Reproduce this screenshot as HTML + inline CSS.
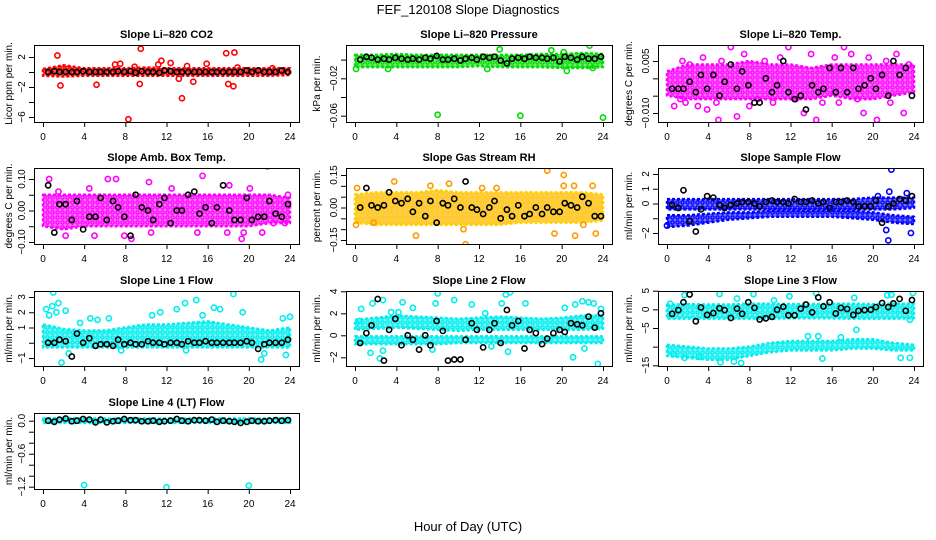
<!DOCTYPE html>
<html><head><meta charset="utf-8"><style>
html,body{margin:0;padding:0;background:#fff;}
svg{display:block;font-family:"Liberation Sans",Arial,sans-serif;}
</style></head><body>
<svg id="chart" width="936" height="540" xmlns="http://www.w3.org/2000/svg">
<text x="468" y="14" text-anchor="middle" font-size="13">FEF_120108  Slope Diagnostics</text>
<text x="468" y="531" text-anchor="middle" font-size="13">Hour of Day (UTC)</text>
</svg>
<script>
const blackHours=[0.5,1.1,1.6,2.2,2.8,3.3,3.9,4.5,5.1,5.6,6.2,6.8,7.3,7.9,8.5,9.0,9.6,10.2,10.7,11.3,11.8,12.4,13.0,13.5,14.1,14.7,15.2,15.8,16.4,16.9,17.5,18.1,18.6,19.2,19.8,20.3,20.9,21.5,22.0,22.6,23.2,23.8];
const bandHours=[0,2,4,6,8,10,12,14,16,18,20,22,24];
const xTicks=[0,4,8,12,16,20,24];

const co2Black=[0,0.1,0,0,0,0,0.1,0,0,0,0,0,0.1,0,0.1,-0.1,0.1,0,0,-0.1,0.2,0.1,0,0,0,0,0,0,0,0,0,0,0,0,0.2,0,0.2,0,0,0,0.2,0];
const co2BandLo=[-0.5,-0.6,-0.5,-0.5,-0.5,-0.5,-0.5,-0.5,-0.5,-0.5,-0.5,-0.5,-0.4];
const co2BandHi=[0.4,0.9,0.5,0.5,0.5,0.6,0.5,0.5,0.5,0.5,0.5,0.5,0.5];
const co2OutX=[1.4,1.7,5.2,7.0,7.5,8.3,8.9,9.5,9.4,11.2,11.5,12.4,13.5,14.0,14.6,15.9,17.8,18.0,18.5,18.6,18.9,22.3,13.2];
const co2OutY=[2.2,-1.8,-1.7,1.0,1.1,-6.3,0.7,3.1,-1.6,1.0,1.5,1.2,-3.5,0.8,-1.3,1.1,2.5,-1.6,-1.9,2.6,0.6,0.5,-0.9];

const presBlack=[0,0.003,0.002,0,0.001,0,0.002,0.001,0,0.001,0,0.002,0.001,0.004,0,0,0.001,-0.001,0.001,0.002,0,0.003,0.002,0.003,-0.001,-0.004,0.001,0.002,0.001,0.003,0.002,0.002,0.001,0.002,-0.002,0.003,0.002,0,0.003,0.001,0.001,0.003];
const presBandLo=[-0.008,-0.008,-0.008,-0.008,-0.008,-0.008,-0.007,-0.008,-0.008,-0.008,-0.009,-0.009,-0.008];
const presBandHi=[0.005,0.005,0.006,0.005,0.005,0.005,0.005,0.005,0.005,0.006,0.006,0.007,0.006];
const presOutX=[8,16,24,0.1,14,20.5,22.7,23,3.2,12.8,19,20.2];
const presOutY=[-0.059,-0.06,-0.062,-0.01,0.011,-0.012,0.015,-0.009,-0.01,-0.01,0.01,0.008];

const tempBlack=[-0.003,-0.003,-0.003,-0.001,-0.004,0.001,-0.003,0.001,-0.005,-0.001,0.004,-0.003,0.002,-0.002,-0.007,-0.007,0,-0.004,-0.002,0.005,-0.004,-0.006,-0.005,-0.009,-0.002,-0.004,-0.003,0.003,-0.004,0.003,-0.004,0.003,-0.003,-0.002,0,-0.003,0.001,-0.005,0.005,0.001,0.003,-0.005];
const tempBandLo=[-0.005,-0.006,-0.006,-0.006,-0.006,-0.006,-0.006,-0.006,-0.005,-0.006,-0.006,-0.005,-0.004];
const tempBandHi=[0.002,0.004,0.004,0.004,0.005,0.004,0.004,0.003,0.004,0.004,0.004,0.004,0.004];
const tempOutX=[0.7,1.3,1.5,1.8,2.2,3.0,3.5,3.9,4.8,5.0,5.3,6.2,6.8,7.5,8.0,8.8,9.5,10.3,11.0,11.8,12.5,13.3,14.0,14.5,15.1,16.3,16.7,17.2,17.9,18.5,19.1,19.6,20.4,21.3,21.7,22.3,23.0,23.5];
const tempOutY=[-0.008,-0.006,0.005,-0.007,0.004,-0.008,0.006,-0.009,-0.007,-0.012,0.005,0.009,-0.011,0.007,-0.008,-0.006,0.005,-0.007,0.006,0.009,-0.006,-0.01,0.007,-0.012,-0.007,0.006,-0.007,0.009,0.007,-0.006,-0.01,0.006,-0.012,0.005,-0.007,0.007,-0.01,0.004];

const boxBlack=[0.08,-0.07,0.02,0.02,-0.03,0.03,-0.06,-0.02,-0.02,0.04,-0.03,0.03,0.01,-0.02,-0.08,0.05,0.01,0,-0.03,0.02,0.04,-0.04,0,0,0.05,0.06,-0.01,0.01,-0.04,0.01,0.08,0,-0.03,-0.03,0.04,-0.03,-0.02,-0.02,0.03,-0.01,-0.02,0.02];
const boxBandLo=[-0.05,-0.06,-0.05,-0.05,-0.05,-0.05,-0.05,-0.05,-0.05,-0.05,-0.05,-0.04,-0.04];
const boxBandHi=[0.05,0.05,0.05,0.05,0.05,0.05,0.05,0.05,0.05,0.05,0.05,0.05,0.04];
const boxOutX=[0.6,1.5,2.2,4.5,5.0,6.3,7.1,7.9,8.6,10.3,10.5,12.5,15.5,15.0,17.9,18.1,19.3,19.5,20.1,21.3,21.8,22.4,23.5,23.8];
const boxOutY=[0.1,0.06,-0.08,0.07,-0.08,0.1,0.1,-0.08,-0.09,0.09,-0.07,0.07,0.11,-0.07,-0.07,0.08,-0.09,-0.07,0.07,-0.07,0.14,-0.04,-0.04,0.05];

const rhBlack=[0,0.09,0.01,0,0.01,0.07,0.03,0.02,0.04,-0.02,0.02,-0.04,0.03,-0.07,0.02,0.01,0.04,0,0.12,0,-0.01,-0.03,0,0.03,-0.05,-0.01,-0.04,0.01,-0.04,-0.03,0,-0.03,0,-0.02,-0.02,0.02,0.01,0,0.05,0.02,-0.04,-0.04];
const rhBandLo=[-0.07,-0.08,-0.08,-0.08,-0.08,-0.08,-0.08,-0.08,-0.07,-0.07,-0.07,-0.07,-0.06];
const rhBandHi=[0.06,0.07,0.07,0.07,0.08,0.07,0.07,0.07,0.07,0.07,0.07,0.07,0.06];
const rhOutX=[0.2,0.1,1.8,3.8,7.3,5.9,9.1,10.7,10.5,12.3,13.7,16.5,18.6,19.3,20.2,20.2,21.2,21.3,22.1,23,23.3];
const rhOutY=[0.09,-0.08,-0.07,0.12,0.1,-0.13,0.11,-0.17,-0.1,0.09,0.09,-0.2,0.17,-0.12,0.15,0.1,0.1,-0.13,-0.08,0.1,-0.12];

const sampBlack=[-0.1,-0.3,0.9,-1.2,-1.9,-0.4,0.5,0.4,-0.1,-0.3,-0.1,0,0.1,0.1,0,-0.2,0.1,0.2,0.1,0.1,0,0.3,0.1,0.1,0.2,0,0.1,-0.3,0.1,0.1,0.2,0.1,-0.2,-0.2,-0.2,0.2,-1.3,-0.2,0,0.3,0.2,0.5];
const sampBandLo=[-0.4,-0.4,-0.4,-0.4,-0.4,-0.4,-0.4,-0.4,-0.4,-0.4,-0.4,-0.4,-0.3];
const sampBandHi=[0.3,0.3,0.3,0.3,0.3,0.3,0.3,0.3,0.3,0.3,0.4,0.4,0.4];
const sampBand2Lo=[-1.6,-1.5,-1.3,-1.1,-1.0,-0.9,-0.9,-0.9,-0.9,-1.0,-1.1,-1.3,-1.4];
const sampBand2Hi=[-0.8,-0.8,-0.7,-0.6,-0.6,-0.5,-0.5,-0.5,-0.5,-0.5,-0.6,-0.8,-0.9];
const sampOutX=[21.8,21.5,21.7,23.6,23.7,21.6,21.3,23.3,20.5,0];
const sampOutY=[2.3,-2.5,-3,-3,-2,0.8,-1.8,0.7,0.5,-1.5];

const l1Black=[0,0,0.2,0.1,-0.9,0.6,0,0.3,-0.2,-0.1,-0.1,-0.2,0.2,-0.1,0,-0.1,-0.1,0.1,0,0,-0.1,0,0,-0.1,0.1,0,0,0.1,0,0,0,0,0,0,0.1,0,-0.4,-0.1,0,0,0,0.2];
const l1BandLo=[-0.3,-0.3,-0.3,-0.3,-0.3,-0.3,-0.3,-0.3,-0.3,-0.3,-0.3,-0.3,-0.3];
const l1BandHi=[1.2,0.9,0.8,0.8,1.0,1.2,1.2,1.3,1.4,1.2,1.0,0.8,1.0];
const l1OutX=[0.3,0.6,0.9,1.0,1.3,1.5,1.8,2.2,2.5,3.6,4.6,5.3,6.4,7.6,11.4,13.0,13.8,13.9,14.9,16.6,17.2,18.5,19.4,21.2,21.5,23.3,23.6,24,10.6,15.5];
const l1OutY=[2.2,1.8,2.4,3.3,2.0,2.6,-1.3,2.1,-0.7,1.3,1.6,1.5,1.6,-0.5,2.0,2.2,2.6,-0.5,2.8,2.3,2.2,3.2,2.0,-1.1,-0.7,1.6,-0.8,1.7,1.8,1.8];

const l2Black=[-0.7,0.2,0.9,3.3,-2.3,0.5,1.5,-0.9,0,-0.4,-1.3,0,-0.9,1.3,0.4,-2.3,-2.2,-2.2,-0.4,1.1,0.5,-1.1,0.5,1.1,-0.7,2.3,0.9,1.3,-1.2,0.5,0.2,-0.8,-0.3,0.2,0.5,0.3,1.1,1,0.9,1.7,0.7,2];
const l2BandLo=[-0.8,-0.8,-0.8,-0.8,-0.8,-0.7,-0.7,-0.7,-0.7,-0.7,-0.7,-0.7,-0.7];
const l2BandHi=[-0.1,-0.1,-0.1,-0.1,-0.1,-0.1,-0.1,-0.1,-0.1,-0.1,-0.1,-0.1,-0.1];
const l2Band2Lo=[0.5,0.6,0.7,0.6,0.5,0.4,0.5,0.5,0.5,0.5,0.5,0.5,0.6];
const l2Band2Hi=[1.4,1.6,1.8,1.7,1.6,1.5,1.6,1.7,1.6,1.5,1.6,1.8,1.8];
const l2OutX=[0.4,0.6,1.7,1.5,2.4,2.7,2.7,3.5,4.2,4.6,5.6,7.5,7.8,8,9.6,11.3,12.6,13.2,14.2,14.6,15,14.8,16.5,20.3,21.1,21.3,22,22.6,23.1,23.5,23.8,22.2];
const l2OutY=[1.3,2.4,2.9,-1.6,-2.1,-1.4,3.2,2.1,2.1,3.0,2.5,-1.3,2.9,3.8,3.2,2.8,2.0,-1.0,2.9,3.7,3.9,-1.5,2.9,2.5,-2.0,2.8,3.1,3.0,2.9,-2.6,2.4,-1.2];

const l3Black=[-1.2,-0.2,1.9,4,-3.2,0.5,-1.5,-1,0.3,-0.2,-2.3,0.2,-1.2,1.9,0.4,-2.7,-2.4,-2,-0.1,0.7,-1.6,-1.6,0.2,1.3,-0.8,3.2,0.8,1.9,-1.1,0.4,0.1,-1.5,-0.4,-0.2,-0.1,0.6,1.7,0.6,1.6,2.8,-0.4,2.5];
const l3BandLo=[-2.5,-2.5,-2.5,-2.5,-2.5,-2.5,-2.4,-2.4,-2.4,-2.5,-2.5,-2.5,-2.4];
const l3BandHi=[1.2,1.4,1.3,1.3,1.5,1.5,1.4,1.4,1.5,1.5,1.4,1.5,1.5];
const l3Band2Lo=[-12.5,-13,-13.5,-13.5,-12.5,-11.5,-11,-11,-11,-10.5,-10.5,-11,-11];
const l3Band2Hi=[-9.5,-10,-10.5,-10.5,-10,-9,-8.5,-8.5,-8.5,-8,-8,-9,-9.5];
const l3OutX=[0.3,1.7,5.1,6.8,8.4,10.4,11.9,14.5,18.2,21.4,21.8,23.9,0.6,1.7,3.1,5.2,7.2,6.5,13.7,14.7,15.1,16.9,18.4,23.6,23.6,22.7];
const l3OutY=[1.5,3.8,4.1,2.9,4.1,2.4,3.5,4.3,3.1,3.8,3.9,4.4,-12,-13,-12.7,-14.2,-14.4,-14,-7.2,-7.2,-13.2,-7.5,-5.5,-13,-2.8,-13];

const l4Black=[0,-0.02,0.02,0.04,-0.01,0,0.03,0.02,-0.03,0.02,-0.03,-0.01,0,0.03,0.01,0.01,-0.01,-0.01,0,-0.02,-0.01,0,0.03,0,-0.01,0.01,0.01,0,0.02,-0.02,0,-0.01,-0.02,-0.04,-0.02,0,-0.01,-0.01,0,0.01,0,0.01];
const l4BandLo=[-0.04,-0.04,-0.04,-0.04,-0.04,-0.04,-0.04,-0.04,-0.04,-0.04,-0.04,-0.04,-0.04];
const l4BandHi=[0.04,0.05,0.04,0.04,0.04,0.04,0.04,0.04,0.04,0.04,0.04,0.04,0.04];
const l4OutX=[4,12,20];
const l4OutY=[-1.17,-1.21,-1.18];

const NS='http://www.w3.org/2000/svg';
const svg=document.getElementById('chart');
const cols=[[34,299],[346,612],[658,923]];
const rows=[[45,122],[168,244],[291,366],[413,489]];

function mk(tag,attrs,parent){const e=document.createElementNS(NS,tag);for(const k in attrs)e.setAttribute(k,attrs[k]);(parent||svg).appendChild(e);return e;}

const defs=mk('defs',{});
const panels=[
 {name:'co2',title:'Slope Li\u2013820 CO2',ylab:'Licor ppm per min.',c:0,r:0,color:'#ff0000',y0:2,p0:57,y1:-6,p1:117,ticks:[2,0,-2,-4,-6],labels:{'2':'2','-2':'\u22122','-6':'\u22126'},black:co2Black,bands:[[co2BandLo,co2BandHi]],ox:co2OutX,oy:co2OutY},
 {name:'pressure',title:'Slope Li\u2013820 Pressure',ylab:'kPa per min.',c:1,r:0,color:'#00dd00',y0:0,p0:59.6,y1:-0.06,p1:115.7,ticks:[0,-0.02,-0.04,-0.06],labels:{'-0.02':'\u22120.02','-0.06':'\u22120.06'},black:presBlack,bands:[[presBandLo,presBandHi]],ox:presOutX,oy:presOutY},
 {name:'li820-temp',title:'Slope Li\u2013820 Temp.',ylab:'degrees C per min.',c:2,r:0,color:'#ff00ff',y0:0.005,p0:61,y1:-0.01,p1:113,ticks:[0.005,0,-0.005,-0.01],labels:{'0.005':'0.005','-0.01':'\u22120.010'},black:tempBlack,bands:[[tempBandLo,tempBandHi]],ox:tempOutX,oy:tempOutY},
 {name:'amb-box-temp',title:'Slope Amb. Box Temp.',ylab:'degrees C per min.',c:0,r:1,color:'#ff00ff',y0:0.1,p0:179,y1:-0.1,p1:242,ticks:[0.1,0.05,0,-0.05,-0.1],labels:{'0.1':'0.10','0':'0.00','-0.1':'\u22120.10'},black:boxBlack,bands:[[boxBandLo,boxBandHi]],ox:boxOutX,oy:boxOutY},
 {name:'gas-stream-rh',title:'Slope Gas Stream RH',ylab:'percent per min.',c:1,r:1,color:'#ff9900',edge:'#ffd000',y0:0.15,p0:175,y1:-0.15,p1:240,ticks:[0.15,0.1,0.05,0,-0.05,-0.1,-0.15],labels:{'0.15':'0.15','0':'0.00','-0.15':'\u22120.15'},black:rhBlack,bands:[[rhBandLo,rhBandHi]],ox:rhOutX,oy:rhOutY},
 {name:'sample-flow',title:'Slope Sample Flow',ylab:'ml/min per min.',c:2,r:1,color:'#0000ff',y0:2,p0:174,y1:-2,p1:233,ticks:[2,1,0,-1,-2],labels:{'2':'2','1':'1','0':'0','-2':'\u22122'},black:sampBlack,bands:[[sampBandLo,sampBandHi],[sampBand2Lo,sampBand2Hi]],ox:sampOutX,oy:sampOutY},
 {name:'line1-flow',title:'Slope Line 1 Flow',ylab:'ml/min per min.',c:0,r:2,color:'#00eeee',y0:3,p0:297,y1:-1,p1:358,ticks:[3,2,1,0,-1],labels:{'3':'3','2':'2','1':'1','-1':'\u22121'},black:l1Black,bands:[[l1BandLo,l1BandHi]],ox:l1OutX,oy:l1OutY},
 {name:'line2-flow',title:'Slope Line 2 Flow',ylab:'ml/min per min.',c:1,r:2,color:'#00eeee',y0:4,p0:291.3,y1:-2,p1:357.3,ticks:[4,2,0,-2],labels:{'4':'4','2':'2','0':'0','-2':'\u22122'},black:l2Black,bands:[[l2BandLo,l2BandHi],[l2Band2Lo,l2Band2Hi]],ox:l2OutX,oy:l2OutY},
 {name:'line3-flow',title:'Slope Line 3 Flow',ylab:'ml/min per min.',c:2,r:2,color:'#00eeee',y0:5,p0:290.7,y1:-15,p1:365.3,ticks:[5,0,-5,-10,-15],labels:{'5':'5','0':'0','-5':'\u22125','-15':'\u221215'},black:l3Black,bands:[[l3BandLo,l3BandHi],[l3Band2Lo,l3Band2Hi]],ox:l3OutX,oy:l3OutY},
 {name:'line4-flow',title:'Slope Line 4 (LT) Flow',ylab:'ml/min per min.',c:0,r:3,color:'#00eeee',y0:0,p0:420.7,y1:-1.2,p1:486.7,ticks:[0,-0.2,-0.4,-0.6,-0.8,-1,-1.2],labels:{'0':'0.0','-0.6':'\u22120.6','-1.2':'\u22121.2'},black:l4Black,bands:[[l4BandLo,l4BandHi]],ox:l4OutX,oy:l4OutY}
];

panels.forEach(p=>{
 const [L,R]=cols[p.c],[T,B]=rows[p.r];
 const xs=h=>L+9+h/24*(R-L-18);
 const ys=v=>p.p0+(v-p.y0)*(p.p1-p.p0)/(p.y1-p.y0);
 // ring texture pattern
 const pat=mk('pattern',{id:'pat-'+p.name,width:5,height:5,patternUnits:'userSpaceOnUse'},defs);
 mk('rect',{x:0,y:0,width:5,height:5,fill:p.color,'fill-opacity':0.55},pat);
 mk('circle',{cx:2.5,cy:2.5,r:1.6,fill:'none',stroke:p.edge||p.color,'stroke-width':1.3},pat);
 const g=mk('g',{});
 
 
 const cp=mk('clipPath',{id:'clip-'+p.name},g);
 mk('rect',{x:L,y:T,width:R-L,height:B-T},cp);
 const plot=mk('g',{'clip-path':'url(#clip-'+p.name+')'},g);
 
 
 p.bands.forEach((b,bi)=>{
  const [lo,hi]=b;
  let pts=bandHours.map((h,i)=>xs(h)+','+ys(hi[i]));
  pts=pts.concat(bandHours.map((h,i)=>xs(h)+','+ys(lo[i])).reverse());
  const poly=mk('polygon',{points:pts.join(' '),fill:'url(#pat-'+p.name+')',stroke:p.edge||p.color,'stroke-width':2.5,'stroke-dasharray':'3 2','stroke-linejoin':'round'},plot);
  
  
 });
 p.ox.forEach((h,i)=>{
  const c=mk('circle',{cx:xs(h),cy:ys(p.oy[i]),r:2.6,fill:'none',stroke:p.color,'stroke-width':1.6},plot);
  
  
 });
 blackHours.forEach((h,i)=>{
  const c=mk('circle',{cx:xs(h),cy:ys(p.black[i]),r:2.6,fill:'none',stroke:'#000','stroke-width':1.6},plot);
  
  
 });
 const bx=mk('rect',{x:L+0.5,y:T+0.5,width:R-L,height:B-T,fill:'none',stroke:'#000','stroke-width':1},g);
 
 
 const t=mk('text',{x:(L+R)/2,y:T-7,'text-anchor':'middle','font-size':11,'font-weight':'bold'},g);
 t.textContent=p.title;
 
 
 const xa=mk('g',{},g);
 
 
 mk('line',{x1:xs(0),x2:xs(24),y1:B+0.5,y2:B+0.5,stroke:'#000'},xa);
 xTicks.forEach(v=>{
  mk('line',{x1:xs(v)+0.5,x2:xs(v)+0.5,y1:B,y2:B+5,stroke:'#000'},xa);
  const lt=mk('text',{x:xs(v),y:B+18,'text-anchor':'middle','font-size':10},xa);
  lt.textContent=v;
  
  
 });
 const ya=mk('g',{},g);
 
 
 mk('line',{x1:L+0.5,x2:L+0.5,y1:ys(p.ticks[0]),y2:ys(p.ticks[p.ticks.length-1]),stroke:'#000'},ya);
 p.ticks.forEach(v=>{
  const yy=ys(v);
  mk('line',{x1:L-5,x2:L,y1:yy+0.5,y2:yy+0.5,stroke:'#000'},ya);
  const lab=p.labels[String(v)];
  if(lab){
   const lt=mk('text',{x:0,y:0,'text-anchor':'middle','font-size':10,transform:'translate('+(L-9)+','+yy+') rotate(-90)'},ya);
   lt.textContent=lab;
   
   
  }
 });
 const yt=mk('text',{x:0,y:0,'text-anchor':'middle','font-size':10,transform:'translate('+(p.c===0?12:L-26)+','+((T+B)/2)+') rotate(-90)'},g);
 yt.textContent=p.ylab;
 
 
});
</script>
</body></html>
